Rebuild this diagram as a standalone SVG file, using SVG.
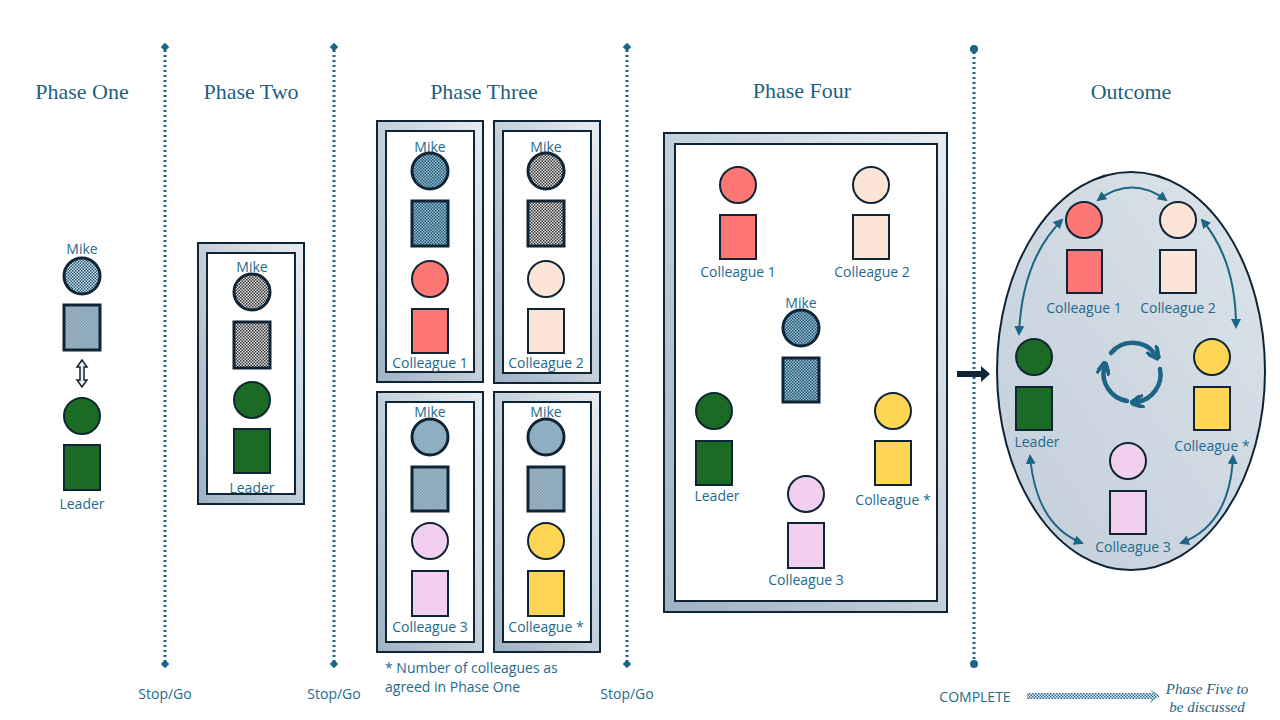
<svg xmlns="http://www.w3.org/2000/svg" width="1280" height="720" viewBox="0 0 1280 720">
<defs>
<pattern id="pLight" width="3" height="3" patternUnits="userSpaceOnUse"><rect width="3" height="3" fill="#d6e6ee"/><rect width="1.5" height="1.5" fill="#1e5270"/><rect x="1.5" y="1.5" width="1.5" height="1.5" fill="#1e5270"/></pattern>
<pattern id="pGrey" width="3" height="3" patternUnits="userSpaceOnUse"><rect width="3" height="3" fill="#e6e6e6"/><rect width="1.5" height="1.5" fill="#333"/><rect x="1.5" y="1.5" width="1.5" height="1.5" fill="#333"/></pattern>
<pattern id="pBlue" width="3" height="3" patternUnits="userSpaceOnUse"><rect width="3" height="3" fill="#9cc4d6"/><rect width="1.5" height="1.5" fill="#1e5270"/><rect x="1.5" y="1.5" width="1.5" height="1.5" fill="#1e5270"/></pattern>
<pattern id="pSoft" width="3" height="3" patternUnits="userSpaceOnUse"><rect width="3" height="3" fill="#a4bccb"/><rect width="1.5" height="1.5" fill="#7f9cae"/><rect x="1.5" y="1.5" width="1.5" height="1.5" fill="#7f9cae"/></pattern>
<pattern id="pArrow" width="3" height="3" patternUnits="userSpaceOnUse"><rect width="3" height="3" fill="#e6f0f5"/><rect width="1.5" height="1.5" fill="#2a6f96"/><rect x="1.5" y="1.5" width="1.5" height="1.5" fill="#2a6f96"/></pattern>
<linearGradient id="bevel" x1="0" y1="1" x2="1" y2="0"><stop offset="0" stop-color="#9fb2c4"/><stop offset="1" stop-color="#e8ecf0"/></linearGradient>
<linearGradient id="egg" x1="0" y1="1" x2="1" y2="0"><stop offset="0" stop-color="#c2ceda"/><stop offset="1" stop-color="#dce3ea"/></linearGradient>
<marker id="ah" viewBox="0 0 10 10" refX="8" refY="5" markerWidth="5" markerHeight="5" orient="auto-start-reverse"><path d="M0,0 L10,5 L0,10 z" fill="#1d6585"/></marker>
<marker id="ah2" viewBox="0 0 10 10" refX="5" refY="5" markerWidth="3" markerHeight="3" orient="auto"><path d="M0,0 L10,5 L0,10" fill="none" stroke="#1d6585" stroke-width="3"/></marker>
</defs>
<style>
.t{font-family:"Liberation Serif",serif;font-size:22px;fill:#1f5f80;text-anchor:middle}
.l{font-family:"Open Sans","Liberation Sans",sans-serif;font-size:14px;fill:#236a8c;text-anchor:middle}
.s{stroke:#0f2535;stroke-width:2}
.sk{stroke:#0f2535;stroke-width:3}
.div{stroke:#1d6585;stroke-width:3;stroke-dasharray:2 3}
.fo{fill:url(#bevel);stroke:#0f2535;stroke-width:2}
.fi{fill:#fff;stroke:#0f2535;stroke-width:2}
.cn{fill:none;stroke:#1d6585;stroke-width:2}
</style>
<rect width="1280" height="720" fill="#fff"/>
<g id="titles">
<text class="t" x="82" y="99">Phase One</text>
<text class="t" x="251" y="99">Phase Two</text>
<text class="t" x="484" y="99">Phase Three</text>
<text class="t" x="802" y="98">Phase Four</text>
<text class="t" x="1131" y="99">Outcome</text>
</g>
<g id="dividers">
<line class="div" x1="165" y1="50" x2="165" y2="662"/><rect x="162" y="44" width="6" height="6" transform="rotate(45 165 47)" fill="#1d6585"/><rect x="162" y="661" width="6" height="6" transform="rotate(45 165 664)" fill="#1d6585"/>
<line class="div" x1="334" y1="50" x2="334" y2="662"/><rect x="331" y="44" width="6" height="6" transform="rotate(45 334 47)" fill="#1d6585"/><rect x="331" y="661" width="6" height="6" transform="rotate(45 334 664)" fill="#1d6585"/>
<line class="div" x1="627" y1="50" x2="627" y2="662"/><rect x="624" y="44" width="6" height="6" transform="rotate(45 627 47)" fill="#1d6585"/><rect x="624" y="661" width="6" height="6" transform="rotate(45 627 664)" fill="#1d6585"/>
<line class="div" x1="974" y1="52" x2="974" y2="660"/><circle cx="974" cy="49" r="4" fill="#1d6585"/><circle cx="974" cy="664" r="4" fill="#1d6585"/>
</g>
<g id="phase-one">
<text class="l" x="82" y="254">Mike</text>
<circle class="sk" cx="82" cy="276" r="18" fill="url(#pLight)"/>
<rect class="sk" x="64" y="305" width="36" height="45" fill="url(#pSoft)"/>
<path d="M82,360 L77,367 L80,367 L80,380 L77,380 L82,387 L87,380 L84,380 L84,367 L87,367 Z" fill="#f0f0f0" stroke="#0f2535" stroke-width="1.5"/>
<circle class="s" cx="82" cy="416" r="18" fill="#1b6b24"/>
<rect class="s" x="64" y="445" width="36" height="45" fill="#1b6b24"/>
<text class="l" x="82" y="509">Leader</text>
</g>
<g id="phase-two">
<rect class="fo" x="198" y="243" width="106" height="261"/>
<rect class="fi" x="207" y="253" width="88" height="241"/>
<text class="l" x="252" y="272">Mike</text>
<circle class="sk" cx="252" cy="292" r="18" fill="url(#pGrey)"/>
<rect class="sk" x="234" y="322" width="36" height="46" fill="url(#pGrey)"/>
<circle class="s" cx="252" cy="400" r="18" fill="#1b6b24"/>
<rect class="s" x="234" y="429" width="36" height="44" fill="#1b6b24"/>
<text class="l" x="252" y="493">Leader</text>
</g>
<g id="phase-three-1">
<rect class="fo" x="377" y="121" width="106" height="261"/>
<rect class="fi" x="386" y="131" width="88" height="241"/>
<text class="l" x="430" y="152">Mike</text>
<circle class="sk" cx="430" cy="171" r="18" fill="url(#pBlue)"/>
<rect class="sk" x="412" y="201" width="36" height="45" fill="url(#pBlue)"/>
<circle class="s" cx="430" cy="279" r="18" fill="#fd7775"/>
<rect class="s" x="412" y="309" width="36" height="44" fill="#fd7775"/>
<text class="l" x="430" y="368">Colleague 1</text>
</g>
<g id="phase-three-2">
<rect class="fo" x="494" y="121" width="106" height="262"/>
<rect class="fi" x="503" y="131" width="88" height="242"/>
<text class="l" x="546" y="152">Mike</text>
<circle class="sk" cx="546" cy="171" r="18" fill="url(#pGrey)"/>
<rect class="sk" x="528" y="201" width="36" height="45" fill="url(#pGrey)"/>
<circle class="s" cx="546" cy="279" r="18" fill="#fce4d6"/>
<rect class="s" x="528" y="309" width="36" height="44" fill="#fce4d6"/>
<text class="l" x="546" y="368">Colleague 2</text>
</g>
<g id="phase-three-3">
<rect class="fo" x="377" y="392" width="106" height="260"/>
<rect class="fi" x="386" y="402" width="88" height="240"/>
<text class="l" x="430" y="417">Mike</text>
<circle class="sk" cx="430" cy="437" r="18" fill="#8eafc1"/>
<rect class="sk" x="412" y="467" width="36" height="44" fill="url(#pSoft)"/>
<circle class="s" cx="430" cy="541" r="18" fill="#f2cfee"/>
<rect class="s" x="412" y="571" width="36" height="45" fill="#f2cfee"/>
<text class="l" x="430" y="632">Colleague 3</text>
</g>
<g id="phase-three-4">
<rect class="fo" x="494" y="392" width="106" height="260"/>
<rect class="fi" x="503" y="402" width="88" height="240"/>
<text class="l" x="546" y="417">Mike</text>
<circle class="sk" cx="546" cy="437" r="18" fill="#8eafc1"/>
<rect class="sk" x="528" y="467" width="36" height="44" fill="url(#pSoft)"/>
<circle class="s" cx="546" cy="541" r="18" fill="#ffd653"/>
<rect class="s" x="528" y="571" width="36" height="45" fill="#ffd653"/>
<text class="l" x="546" y="632">Colleague *</text>
</g>
<g id="footnote">
<text class="l" x="385" y="673" style="text-anchor:start">* Number of colleagues as</text>
<text class="l" x="385" y="692" style="text-anchor:start">agreed in Phase One</text>
</g>
<g id="phase-four">
<rect class="fo" x="664" y="133" width="283" height="479"/>
<rect class="fi" x="675" y="144" width="262" height="457"/>
<circle class="s" cx="738" cy="185" r="18" fill="#fd7775"/>
<rect class="s" x="720" y="215" width="36" height="44" fill="#fd7775"/>
<text class="l" x="738" y="277">Colleague 1</text>
<circle class="s" cx="871" cy="185" r="18" fill="#fce4d6"/>
<rect class="s" x="853" y="215" width="36" height="44" fill="#fce4d6"/>
<text class="l" x="872" y="277">Colleague 2</text>
<text class="l" x="801" y="308">Mike</text>
<circle class="sk" cx="801" cy="328" r="18" fill="url(#pBlue)"/>
<rect class="sk" x="783" y="358" width="36" height="44" fill="url(#pBlue)"/>
<circle class="s" cx="714" cy="411" r="18" fill="#1b6b24"/>
<rect class="s" x="696" y="441" width="36" height="44" fill="#1b6b24"/>
<text class="l" x="717" y="501">Leader</text>
<circle class="s" cx="893" cy="411" r="18" fill="#ffd653"/>
<rect class="s" x="875" y="441" width="36" height="44" fill="#ffd653"/>
<text class="l" x="893" y="505">Colleague *</text>
<circle class="s" cx="806" cy="494" r="18" fill="#f2cfee"/>
<rect class="s" x="788" y="523" width="36" height="45" fill="#f2cfee"/>
<text class="l" x="806" y="585">Colleague 3</text>
</g>
<g id="outcome">
<ellipse cx="1131" cy="371" rx="134" ry="199" fill="url(#egg)" stroke="#0f2535" stroke-width="2"/>
<circle class="s" cx="1084" cy="220" r="18" fill="#fd7775"/>
<rect class="s" x="1067" y="250" width="35" height="43" fill="#fd7775"/>
<text class="l" x="1084" y="313">Colleague 1</text>
<circle class="s" cx="1178" cy="220" r="18" fill="#fce4d6"/>
<rect class="s" x="1160" y="250" width="36" height="43" fill="#fce4d6"/>
<text class="l" x="1178" y="313">Colleague 2</text>
<circle class="s" cx="1034" cy="357" r="18" fill="#1b6b24"/>
<rect class="s" x="1016" y="387" width="36" height="43" fill="#1b6b24"/>
<text class="l" x="1037" y="447">Leader</text>
<circle class="s" cx="1212" cy="357" r="18" fill="#ffd653"/>
<rect class="s" x="1194" y="387" width="36" height="43" fill="#ffd653"/>
<text class="l" x="1212" y="451">Colleague *</text>
<circle class="s" cx="1128" cy="461" r="18" fill="#f2cfee"/>
<rect class="s" x="1110" y="491" width="36" height="43" fill="#f2cfee"/>
<text class="l" x="1133" y="552">Colleague 3</text>
<g id="cycle" fill="none" stroke="#1d6585" stroke-width="4.5" stroke-linecap="round">
<path d="M1111,353 A28,28 0 0 1 1155,354" marker-end="url(#ah2)"/>
<path d="M1160,369 A28,28 0 0 1 1137,402" marker-end="url(#ah2)"/>
<path d="M1127,401 A28,28 0 0 1 1104,368" marker-end="url(#ah2)"/>
</g>
</g>
<g id="connectors">
<path class="cn" d="M1098,200 Q1132,175 1166,200" marker-start="url(#ah)" marker-end="url(#ah)"/>
<path class="cn" d="M1062,220 Q1022,260 1019,334" marker-start="url(#ah)" marker-end="url(#ah)"/>
<path class="cn" d="M1202,220 Q1236,260 1236,327" marker-start="url(#ah)" marker-end="url(#ah)"/>
<path class="cn" d="M1030,456 Q1036,525 1082,543" marker-start="url(#ah)" marker-end="url(#ah)"/>
<path class="cn" d="M1233,456 Q1230,525 1181,543" marker-start="url(#ah)" marker-end="url(#ah)"/>
<path d="M957,371 L981,371 L981,366 L990,374 L981,382 L981,377 L957,377 Z" fill="#0f2535"/>
<path d="M1027,693 L1152,693 L1150,689 L1160,696 L1150,703 L1152,699 L1027,699 Z" fill="url(#pArrow)"/>
</g>
<g id="footer">
<text class="l" x="165" y="699">Stop/Go</text>
<text class="l" x="334" y="699">Stop/Go</text>
<text class="l" x="627" y="699">Stop/Go</text>
<text class="l" x="975" y="702">COMPLETE</text>
<text x="1207" y="694" style="font-family:'Liberation Serif',serif;font-style:italic;font-size:15px;fill:#1f5f80;text-anchor:middle">Phase Five to</text>
<text x="1207" y="712" style="font-family:'Liberation Serif',serif;font-style:italic;font-size:15px;fill:#1f5f80;text-anchor:middle">be discussed</text>
</g>
</svg>
